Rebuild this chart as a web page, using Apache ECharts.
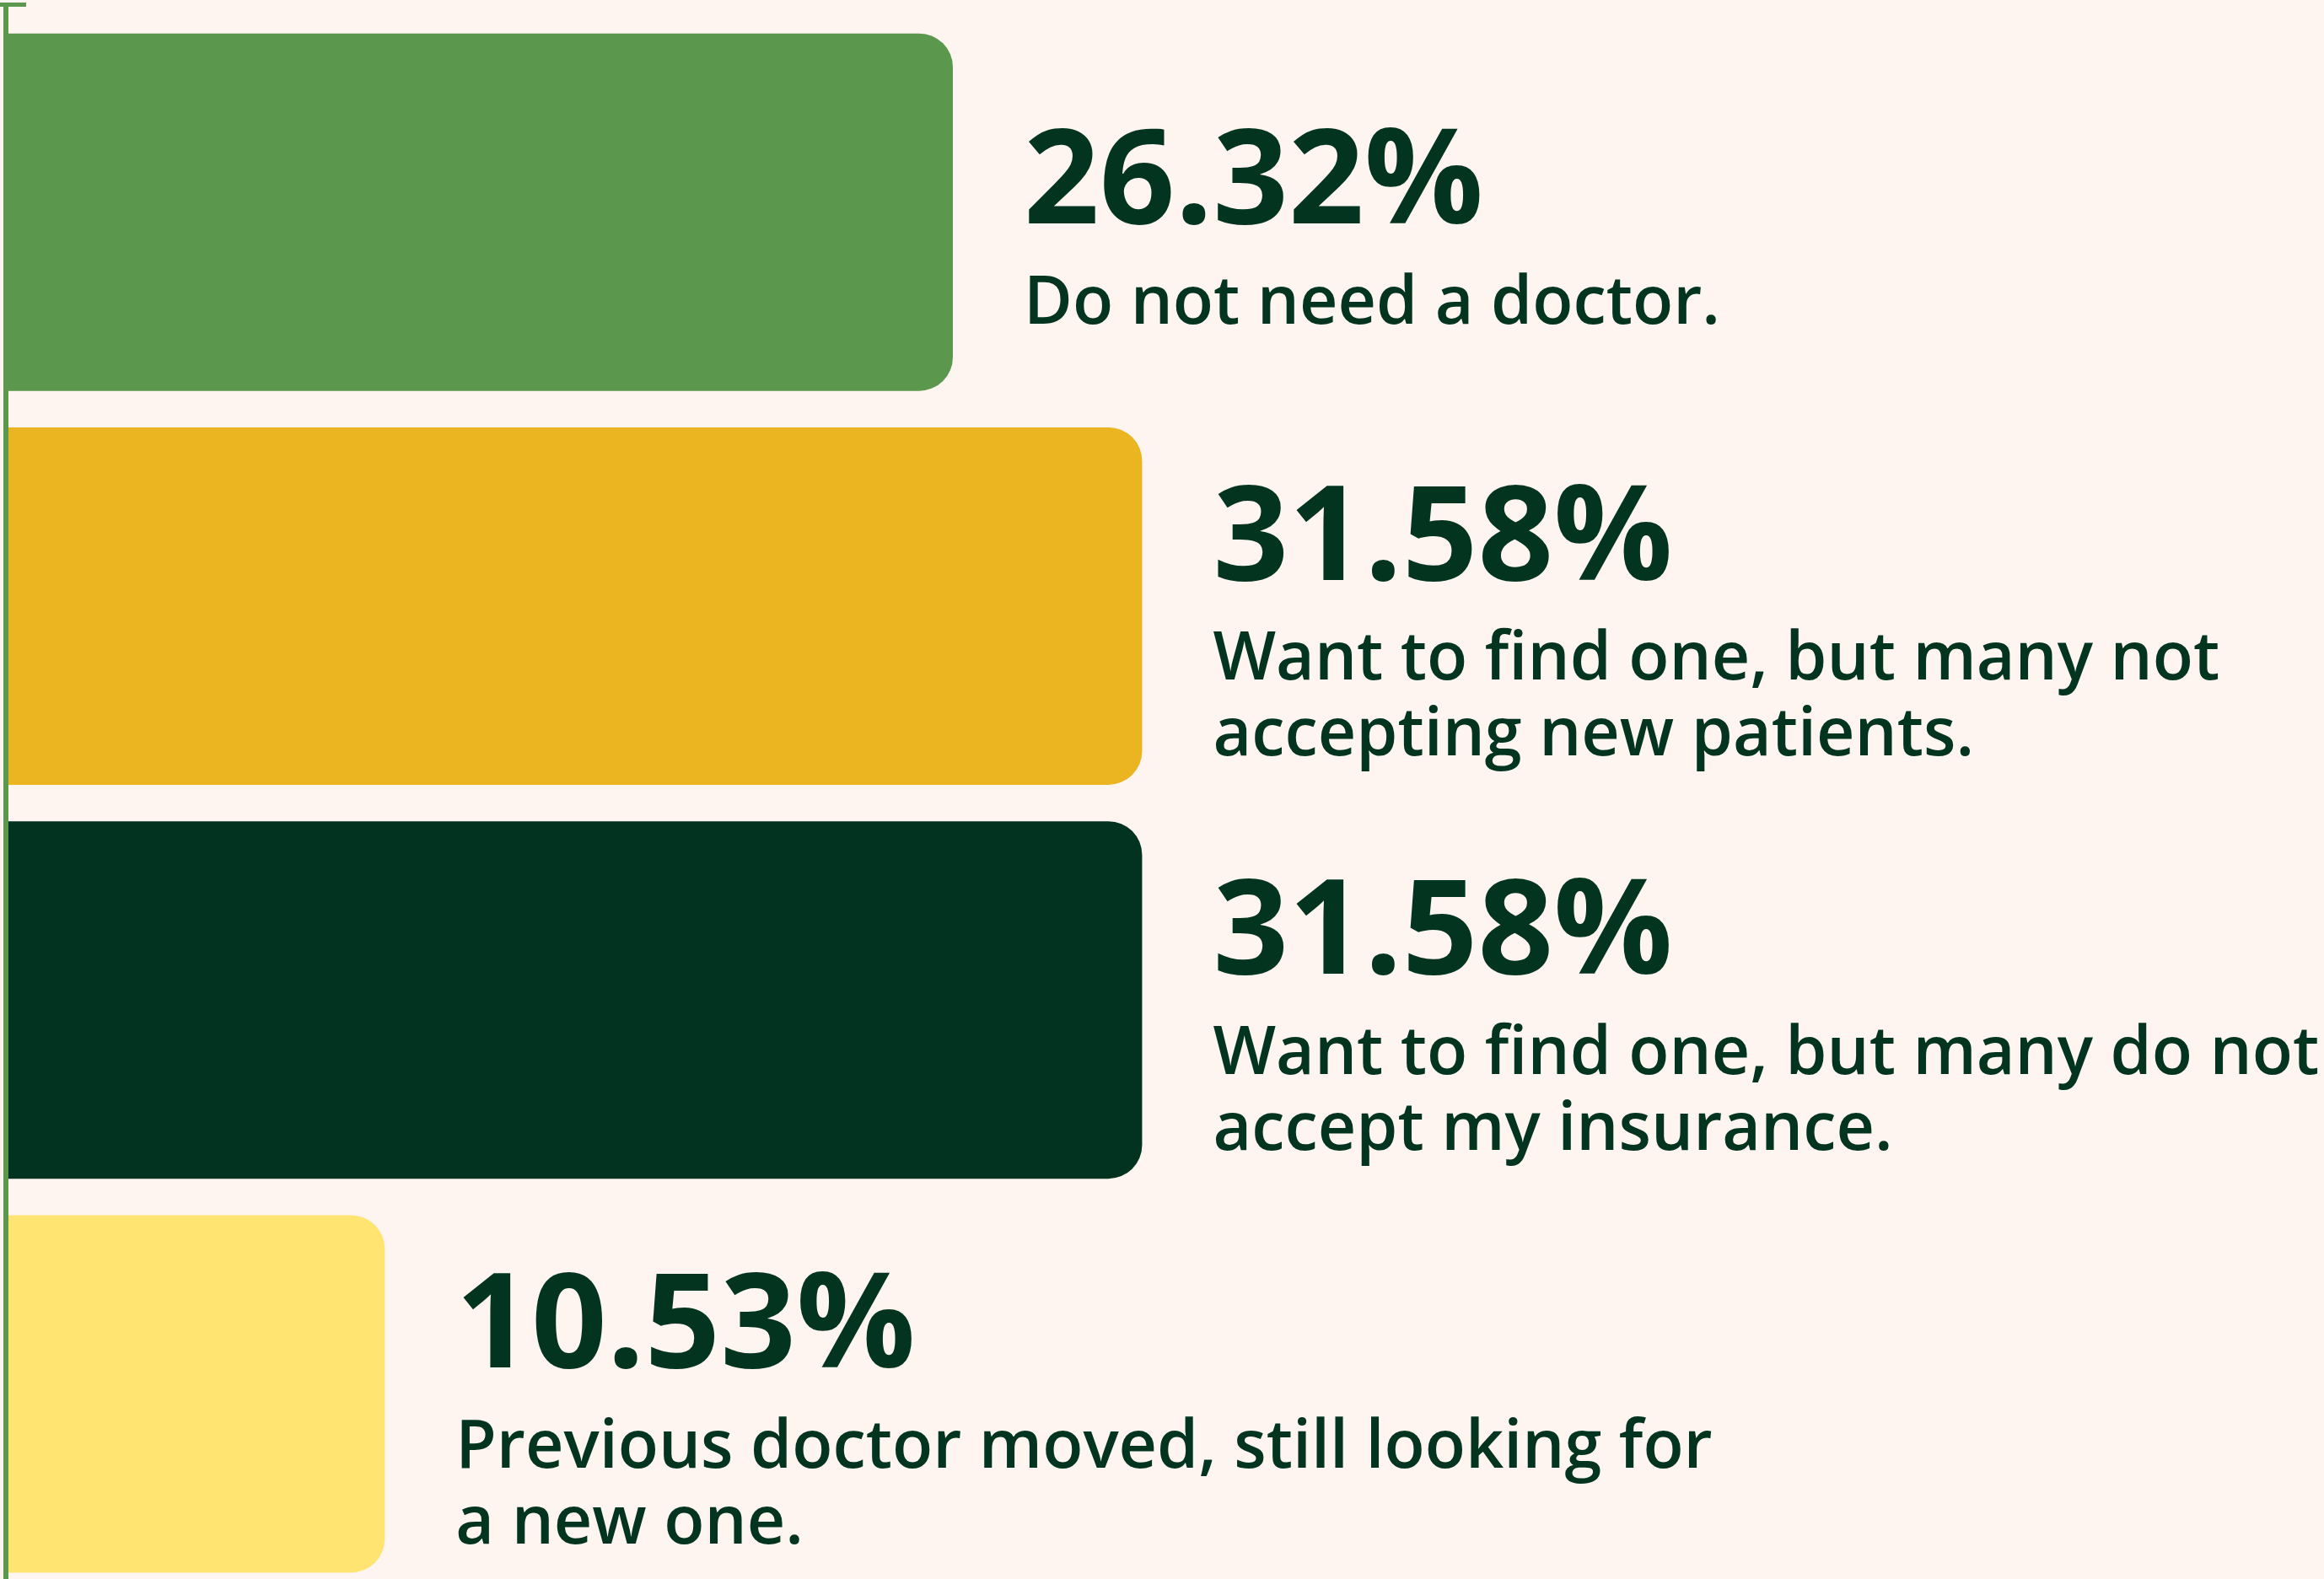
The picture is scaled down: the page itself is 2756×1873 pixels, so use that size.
<!DOCTYPE html>
<html>
<head>
<meta charset="utf-8">
<script src="https://cdn.jsdelivr.net/npm/echarts@6/dist/echarts.min.js"></script>
<style>
  html, body { margin: 0; padding: 0; background: #FEF4F0; }
  #chart { width: 2756px; height: 1873px; }
</style>
</head>
<body>
<div id="chart"></div>
<script>
// ---- data ----
const categories = [
  "Do not need a doctor.",
  "Want to find one, but many not\naccepting new patients.",
  "Want to find one, but many do not\naccept my insurance.",
  "Previous doctor moved, still looking for\na new one."
];
const values = [26.32, 31.58, 31.58, 10.53];

// ---- styles ----
const barColors = ["#5B974C", "#EBB421", "#013320", "#FFE472"];
const textColor = "#02341F";
const axisColor = "#5B974C";

const chart = echarts.init(document.getElementById('chart'), null, { renderer: 'canvas' });

chart.setOption({
  backgroundColor: '#FEF4F0',
  animation: false,
  grid: { left: 7, top: 18, width: 2560, height: 1869, containLabel: false, outerBoundsMode: 'none' },
  xAxis: {
    type: 'value', min: 0, max: 60, show: false
  },
  yAxis: {
    type: 'category',
    inverse: true,
    data: categories,
    z: 10,
    axisLine: {
      show: true,
      lineStyle: { color: axisColor, width: 6 },
      symbol: ['none', 'path://M0,0L48,0L48,5L27,5L27,32L21,32L21,5L0,5Z'],
      symbolSize: [48, 32],
      symbolOffset: [0, -1]
    },
    axisTick: { show: false },
    axisLabel: { show: false },
    splitLine: { show: false }
  },
  series: [{
    type: 'bar',
    barWidth: 424,
    data: values.map((v, i) => ({
      value: v,
      itemStyle: { color: barColors[i] }
    })),
    itemStyle: { borderRadius: [0, 40, 40, 0] },
    label: {
      show: true,
      position: 'right',
      distance: 84,
      align: 'left',
      offset: [0, 14],
      formatter: function (p) {
        return '{p|' + p.value.toFixed(2) + '%}\n{d|' + p.name + '}';
      },
      rich: {
        p: {
          fontFamily: 'Open Sans',
          fontWeight: 700,
          fontSize: 157,
          lineHeight: 192,
          color: textColor
        },
        d: {
          fontFamily: 'Open Sans',
          fontWeight: 600,
          fontSize: 79,
          lineHeight: 90,
          color: textColor
        }
      }
    }
  }]
});
</script>
</body>
</html>
